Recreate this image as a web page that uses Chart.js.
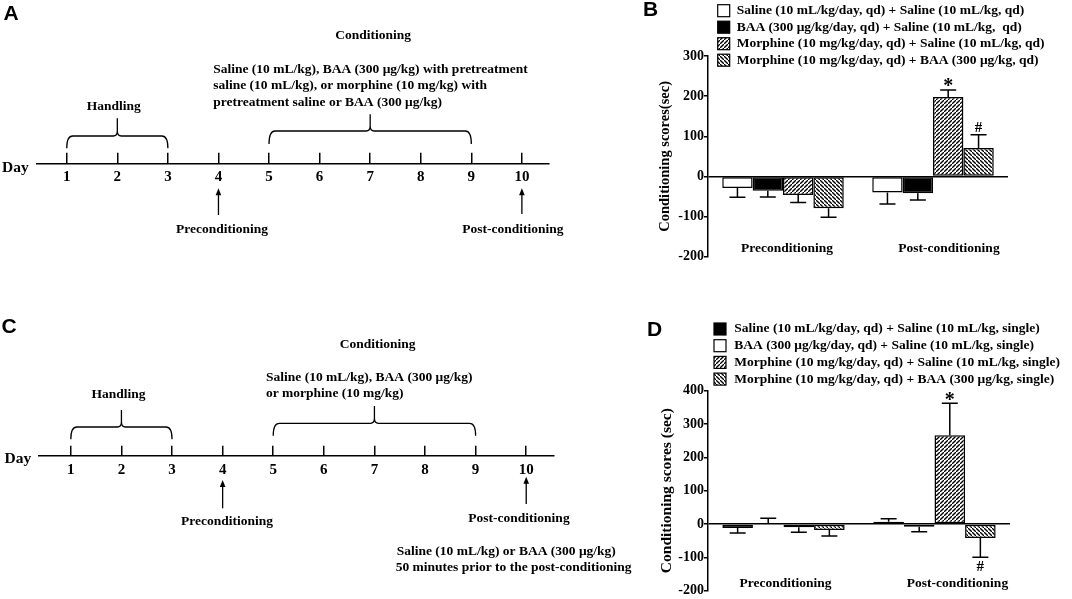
<!DOCTYPE html>
<html><head><meta charset="utf-8">
<script src="https://cdn.jsdelivr.net/npm/chart.js@4.4.1/dist/chart.umd.min.js"></script>
<style>
html,body{margin:0;padding:0;background:#fff;}
body{width:1072px;height:599px;position:relative;overflow:hidden;}
.p{position:absolute;}
</style></head><body>
<div class="p" style="left:0;top:0;width:640px;height:300px"><canvas id="cA"></canvas></div>
<div class="p" style="left:640px;top:0;width:432px;height:300px"><canvas id="cB"></canvas></div>
<div class="p" style="left:0;top:300px;width:640px;height:299px"><canvas id="cC"></canvas></div>
<div class="p" style="left:640px;top:300px;width:432px;height:299px"><canvas id="cD"></canvas></div>
<script>
// ---------------- DATA ----------------
const days = [1,2,3,4,5,6,7,8,9,10];
const handlingDays = [1,3];
const conditioningDays = [5,9];
const preTestDay = 4;
const postTestDay = 10;

const groupLabels = ['Preconditioning','Post-conditioning'];

const seriesB = [
  'Saline (10 mL/kg/day, qd) + Saline (10 mL/kg, qd)',
  'BAA (300 μg/kg/day, qd) + Saline (10 mL/kg,  qd)',
  'Morphine (10 mg/kg/day, qd) + Saline (10 mL/kg, qd)',
  'Morphine (10 mg/kg/day, qd) + BAA (300 μg/kg, qd)'
];
const meanB = [[-29,-40],[-36,-42],[-46,198],[-79,71]];
const semB  = [[23,29],[15,17],[19,17],[23,33]];
const marksB = [['',''],['',''],['','*'],['','#']];

const seriesD = [
  'Saline (10 mL/kg/day, qd) + Saline (10 mL/kg, single)',
  'BAA (300 μg/kg/day, qd) + Saline (10 mL/kg, single)',
  'Morphine (10 mg/kg/day, qd) + Saline (10 mL/kg, single)',
  'Morphine (10 mg/kg/day, qd) + BAA (300 μg/kg, single)'
];
const meanD = [[-12,7],[3,-8],[-10,266],[-18,-42]];
const semD  = [[15,9],[14,15],[15,96],[18,58]];
const marksD = [['',''],['',''],['','*'],['','#']];

const yTicksStep = 100;

// ---------------- STYLE ----------------
const SERIF = '"Liberation Serif","Times New Roman",serif';
const SANS = '"Liberation Sans",Arial,sans-serif';

function hatch(dir){
  const s=4, c=document.createElement('canvas'); c.width=c.height=s;
  const g=c.getContext('2d');
  g.fillStyle='#fff'; g.fillRect(0,0,s,s);
  g.strokeStyle='#000'; g.lineWidth=1.3; g.beginPath();
  if(dir>0){ g.moveTo(-1,s+1); g.lineTo(s+1,-1); }
  else { g.moveTo(-1,-1); g.lineTo(s+1,s+1); }
  g.stroke();
  return g.createPattern(c,'repeat');
}
const HATCH_UP = hatch(1), HATCH_DOWN = hatch(-1);

function txt(ctx,s,x,y,align,size,fam){
  ctx.font='bold '+size+'px '+(fam||SERIF);
  ctx.textAlign=align||'left'; ctx.textBaseline='middle'; ctx.fillStyle='#000';
  ctx.fillText(s,x,y);
}

// ---------------- TIMELINES ----------------
function brace(ctx,x1,x2,yTop,yTip,ySpike){
  const xm=(x1+x2)/2, r=Math.min(6,yTip-yTop);
  ctx.beginPath();
  ctx.moveTo(x1,yTip);
  ctx.quadraticCurveTo(x1,yTop,x1+r,yTop);
  ctx.lineTo(xm-4,yTop);
  ctx.quadraticCurveTo(xm,yTop,xm,yTop-5);
  ctx.lineTo(xm,ySpike);
  ctx.moveTo(xm,yTop-5);
  ctx.quadraticCurveTo(xm,yTop,xm+4,yTop);
  ctx.lineTo(x2-r,yTop);
  ctx.quadraticCurveTo(x2,yTop,x2,yTip);
  ctx.stroke();
}
function arrow(ctx,x,yB,yH){
  ctx.beginPath(); ctx.moveTo(x,yB); ctx.lineTo(x,yH+5); ctx.stroke();
  ctx.beginPath(); ctx.moveTo(x,yH); ctx.lineTo(x-2.8,yH+7); ctx.lineTo(x+2.8,yH+7); ctx.closePath(); ctx.fill();
}
function timeline(id,L){
  const plug={id:'tl'+id,afterDraw(chart){
    const ctx=chart.ctx, xs=chart.scales.x, px=d=>xs.getPixelForValue(d);
    ctx.save();
    ctx.strokeStyle='#000'; ctx.fillStyle='#000'; ctx.lineWidth=1.3;
    brace(ctx,px(handlingDays[0]),px(handlingDays[1]),L.hB[0],L.hB[1],L.hB[2]);
    brace(ctx,px(conditioningDays[0]),px(conditioningDays[1]),L.cB[0],L.cB[1],L.cB[2]);
    arrow(ctx,px(preTestDay),L.arPre[0],L.arPre[1]);
    arrow(ctx,px(postTestDay),L.arPost[0],L.arPost[1]);
    txt(ctx,L.letter,L.letterPos[0],L.letterPos[1],'left',21,SANS);
    txt(ctx,'Day',L.dayPos[0],L.dayPos[1],'left',15.5);
    L.texts.forEach(t=>txt(ctx,t[0],t[1],t[2],t[3],13.5));
    ctx.restore();
  }};
  return new Chart(document.getElementById(id),{
    type:'scatter',
    data:{datasets:[{data:[]}]},
    options:{
      responsive:true,maintainAspectRatio:false,animation:false,
      layout:{padding:{left:L.left,right:L.right,top:L.top,bottom:0}},
      plugins:{legend:{display:false},tooltip:{enabled:false}},
      scales:{
        x:{type:'linear',min:L.min,max:L.max,
          afterBuildTicks:s=>{s.ticks=days.map(v=>({value:v}));},
          afterFit:s=>{s.height=L.axisH;},
          grid:{drawOnChartArea:true,drawTicks:false,color:'#000',lineWidth:1.5},
          border:{display:true,color:'#000',width:1.5},
          ticks:{autoSkip:false,maxRotation:0,padding:L.tickPad,color:'#000',
            font:{family:SERIF,weight:'bold',size:15},callback:v=>String(v)}},
        y:{display:false,min:0,max:1}
      }
    },
    plugins:[plug]
  });
}

timeline('cA',{
  letter:'A',letterPos:[3.5,14],dayPos:[2,168.3],
  left:36.4,right:90.8,top:152.7,axisH:136,min:0.40,max:10.54,tickPad:3.7,
  hB:[136,148.3,118.3],cB:[131,144,114.3],arPre:[215,188.3],arPost:[214,188.3],
  texts:[
    ['Conditioning',373.1,36,'center'],
    ['Saline (10 mL/kg), BAA (300 μg/kg) with pretreatment',213.2,70,'left'],
    ['saline (10 mL/kg), or morphine (10 mg/kg) with',213.2,86,'left'],
    ['pretreatment saline or BAA (300 μg/kg)',213.2,102.7,'left'],
    ['Handling',113.7,106.7,'center'],
    ['Preconditioning',222,229.3,'center'],
    ['Post-conditioning',512.8,229.3,'center']
  ]
});
timeline('cC',{
  letter:'C',letterPos:[1.5,27.5],dayPos:[4.6,159.3],
  left:38.3,right:86.2,top:145.7,axisH:143.3,min:0.357,max:10.545,tickPad:5.3,
  hB:[127,139.3,110],cB:[123.3,135.7,106],arPre:[208.3,180],arPost:[204,176.7],
  texts:[
    ['Conditioning',377.7,44.3,'center'],
    ['Saline (10 mL/kg), BAA (300 μg/kg)',266,77.3,'left'],
    ['or morphine (10 mg/kg)',266,93.7,'left'],
    ['Handling',118.6,94.3,'center'],
    ['Preconditioning',227,221.7,'center'],
    ['Post-conditioning',519,218.3,'center'],
    ['Saline (10 mL/kg) or BAA (300 μg/kg)',396.7,251.7,'left'],
    ['50 minutes prior to the post-conditioning',395.7,267.3,'left']
  ]
});

// ---------------- BAR CHARTS ----------------
function barChart(id,labels,means,sems,marks,fills,L){
  const plug={id:'bp'+id,
    afterDatasetsDraw(chart){
      const ctx=chart.ctx, ys=chart.scales.y;
      ctx.save(); ctx.strokeStyle='#000'; ctx.lineWidth=1.5;
      chart.data.datasets.forEach((ds,i)=>{
        chart.getDatasetMeta(i).data.forEach((bar,j)=>{
          const v=ds.data[j], e=sems[i][j], dir=v>=0?1:-1;
          const y0=ys.getPixelForValue(v), y1=ys.getPixelForValue(v+dir*e);
          ctx.beginPath(); ctx.moveTo(bar.x,y0); ctx.lineTo(bar.x,y1);
          ctx.moveTo(bar.x-8,y1); ctx.lineTo(bar.x+8,y1); ctx.stroke();
          const m=marks[i][j];
          if(m){
            if(m==='*') txt(ctx,m,bar.x,dir>0?y1-3:y1+10,'center',20);
            else txt(ctx,m,bar.x,dir>0?y1-7:y1+10,'center',15);
          }
        });
      });
      ctx.restore();
    },
    afterDraw(chart){
      const ctx=chart.ctx, xs=chart.scales.x;
      ctx.save();
      txt(ctx,L.letter,L.letterPos[0],L.letterPos[1],'left',21,SANS);
      chart.data.labels.forEach((lab,i)=>txt(ctx,lab,xs.getPixelForTick(i)+L.catDx[i],L.catY,'center',13.5));
      chart.data.datasets.forEach((ds,i)=>{
        const y=L.leg.y0+i*L.leg.dy;
        ctx.fillStyle=ds.backgroundColor; ctx.fillRect(L.leg.bx,y-6,12,12);
        ctx.strokeStyle='#000'; ctx.lineWidth=1.2; ctx.strokeRect(L.leg.bx,y-6,12,12);
        txt(ctx,ds.label,L.leg.tx,y,'left',13.5);
      });
      ctx.restore();
    }
  };
  return new Chart(document.getElementById(id),{
    type:'bar',
    data:{labels:groupLabels,datasets:labels.map((lab,i)=>({
      label:lab,data:means[i],backgroundColor:fills[i],borderColor:'#000',borderWidth:1.5,
      borderSkipped:false,categoryPercentage:0.81,barPercentage:1.0}))},
    options:{
      responsive:true,maintainAspectRatio:false,animation:false,
      layout:{padding:{left:0,right:L.right,top:L.top,bottom:0}},
      plugins:{legend:{display:false},tooltip:{enabled:false}},
      scales:{
        x:{afterFit:s=>{s.height=L.axisH;},grid:{display:false},border:{display:false},
          ticks:{display:false}},
        y:{min:L.min,max:L.max,afterFit:s=>{s.width=68;},
          ticks:{stepSize:yTicksStep,padding:0,color:'#000',font:{family:SERIF,weight:'bold',size:14}},
          grid:{color:c=>(c.tick&&c.tick.value===0)?'#000':'rgba(0,0,0,0)',lineWidth:1.5,
            tickColor:'#000',tickLength:4,drawTicks:true,drawOnChartArea:true},
          border:{display:true,color:'#000',width:1.5},
          title:{display:true,text:L.title,color:'#000',
            font:{family:SERIF,weight:'bold',size:L.titleSize},padding:{top:L.titlePad,bottom:0}}}
      }
    },
    plugins:[plug]
  });
}

barChart('cB',seriesB,meanB,semB,marksB,['#fff','#000',HATCH_UP,HATCH_DOWN],{
  letter:'B',letterPos:[3,10],top:56,right:64,axisH:43.3,catY:248.5,catDx:[4,16],min:-200,max:300,
  title:'Conditioning scores(sec)',titleSize:14.5,titlePad:16.3,
  leg:{bx:77.7,tx:96.7,y0:10.7,dy:16.5}
});
barChart('cD',seriesD,meanD,semD,marksD,['#000','#fff',HATCH_UP,HATCH_DOWN],{
  letter:'D',letterPos:[7,30.5],top:90.7,right:62,axisH:7.3,catY:284,catDx:[2,23],min:-200,max:400,
  title:'Conditioning scores (sec)',titleSize:15.5,titlePad:17.7,
  leg:{bx:74,tx:94.3,y0:29,dy:16.7}
});
</script>
</body></html>
